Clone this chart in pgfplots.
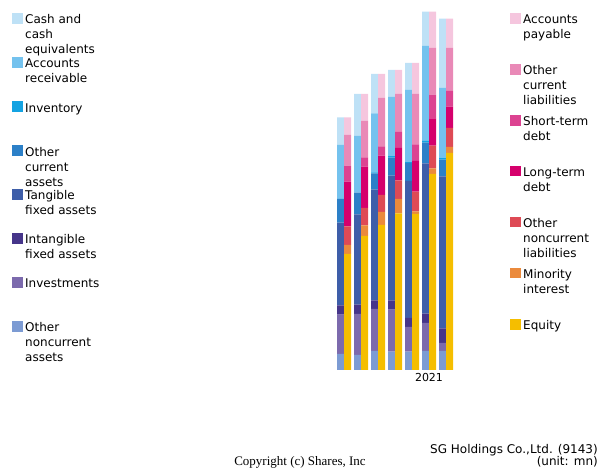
\documentclass[border=0pt]{standalone}
\usepackage{pgfplots}
\pgfplotsset{compat=1.18}
\usepackage{pgfplotstable}
\usepackage{fontspec}
\setmainfont{DejaVu Sans}
\newfontfamily\seriffont{Liberation Serif}

\definecolor{cCash}{HTML}{BEE1F6}
\definecolor{cAR}{HTML}{74C2EE}
\definecolor{cInvt}{HTML}{14A3E2}
\definecolor{cOCA}{HTML}{2C80C8}
\definecolor{cTang}{HTML}{3E5EA9}
\definecolor{cIntang}{HTML}{46358A}
\definecolor{cInv}{HTML}{7C6AAD}
\definecolor{cONCA}{HTML}{7C9BD3}
\definecolor{cAP}{HTML}{F5C6DE}
\definecolor{cOCL}{HTML}{E989B7}
\definecolor{cSTD}{HTML}{DC4391}
\definecolor{cLTD}{HTML}{D5006C}
\definecolor{cONCL}{HTML}{DE4A55}
\definecolor{cMI}{HTML}{EB8A3C}
\definecolor{cEq}{HTML}{F5BE00}

\pgfplotstableread{
x onca inv intang tang oca invt ar cash
1 48 118 28 248 71 0 162 83
2 45 123 28 271 65 0 170 126
3 57 126 26 332 49 3 177 118
4 55 126 28 374 54 6 176 81
5 55 74 27 411 54 4 215 81
6 57 84 28 451 62 5 285 103
7 57 24 44 456 50 6 209 208
}\assets

\pgfplotstableread{
x eq mi oncl ltd std ocl ap
1 348 27 56 134 48 92 53
2 402 32 52 124 28 109 81
3 435 39 51 118 28 145 72
4 470 43 56 97 48 114 72
5 468 8 59 92 50 151 93
6 588 17 68 82 71 140 109
7 651 18 57 64 47 129 88
}\liabs

\pgfplotsset{bs/.style={scale only axis, width=119pt, height=370pt,
  xmin=0.5, xmax=7.5, ymin=0, ymax=1110, enlargelimits=false,
  axis line style={draw=none}, ytick=\empty, major tick length=0pt,
  ybar stacked, bar width=7pt, clip=false,
  anchor=south west, at={(335.5pt,100pt)},
  tick label style={font=\fontsize{11}{13}\selectfont},
  /pgf/number format/assume math mode=true}}

\newcommand{\legentry}[4]{%
  \fill[#3] (#1,{470-#2}) rectangle ({#1+10.7},{470-#2-10.7});
  \foreach \l [count=\i] in {#4}
    \node[anchor=base west,inner sep=0pt] at ({#1+13},{470-#2-10.7-15*(\i-1)}) {\l};
}

\begin{document}
\begin{tikzpicture}[font=\fontsize{12}{15}\selectfont]
\useasboundingbox (0pt,0pt) rectangle (600pt,470pt);

\begin{axis}[bs, bar shift=-3.5pt, xtick={6}, xticklabels={2021}]
\addplot[fill=cONCA, draw=none] table[x=x,y=onca]{\assets};
\addplot[fill=cInv, draw=none] table[x=x,y=inv]{\assets};
\addplot[fill=cIntang, draw=none] table[x=x,y=intang]{\assets};
\addplot[fill=cTang, draw=none] table[x=x,y=tang]{\assets};
\addplot[fill=cOCA, draw=none] table[x=x,y=oca]{\assets};
\addplot[fill=cInvt, draw=none] table[x=x,y=invt]{\assets};
\addplot[fill=cAR, draw=none] table[x=x,y=ar]{\assets};
\addplot[fill=cCash, draw=none] table[x=x,y=cash]{\assets};
\end{axis}

\begin{axis}[bs, bar shift=3.5pt, xtick=\empty]
\addplot[fill=cEq, draw=none] table[x=x,y=eq]{\liabs};
\addplot[fill=cMI, draw=none] table[x=x,y=mi]{\liabs};
\addplot[fill=cONCL, draw=none] table[x=x,y=oncl]{\liabs};
\addplot[fill=cLTD, draw=none] table[x=x,y=ltd]{\liabs};
\addplot[fill=cSTD, draw=none] table[x=x,y=std]{\liabs};
\addplot[fill=cOCL, draw=none] table[x=x,y=ocl]{\liabs};
\addplot[fill=cAP, draw=none] table[x=x,y=ap]{\liabs};
\end{axis}

\begin{scope}[x=1pt,y=1pt]
\legentry{12}{13.3}{cCash}{Cash and,cash,equivalents}
\legentry{12}{57.3}{cAR}{Accounts,receivable}
\legentry{12}{101.5}{cInvt}{Inventory}
\legentry{12}{145.5}{cOCA}{Other,current,assets}
\legentry{12}{189.3}{cTang}{Tangible,fixed assets}
\legentry{12}{233.3}{cIntang}{Intangible,fixed assets}
\legentry{12}{277.3}{cInv}{Investments}
\legentry{12}{321.3}{cONCA}{Other,noncurrent,assets}

\legentry{510}{13.3}{cAP}{Accounts,payable}
\legentry{510}{64.3}{cOCL}{Other,current,liabilities}
\legentry{510}{115}{cSTD}{Short-term,debt}
\legentry{510}{165.7}{cLTD}{Long-term,debt}
\legentry{510}{216.7}{cONCL}{Other,noncurrent,liabilities}
\legentry{510}{267.7}{cMI}{Minority,interest}
\legentry{510}{319}{cEq}{Equity}

\node[anchor=base east,inner sep=0pt] at (598,{470-454}) {SG Holdings Co.,Ltd. (9143)};
\node[anchor=base east,inner sep=0pt] at (598,{470-466}) {(unit: mn)};
\node[anchor=base,inner sep=0pt,font=\seriffont\fontsize{13}{15}\selectfont] at (300,{470-466}) {Copyright (c) Shares, Inc};
\end{scope}
\end{tikzpicture}
\end{document}
